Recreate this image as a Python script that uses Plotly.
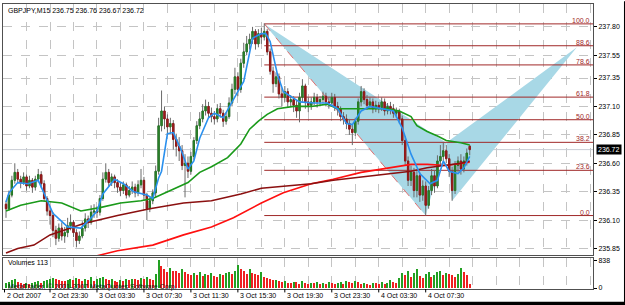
import plotly.graph_objects as go

# ---------------- data ----------------
bars = list(range(159))

opens = [
    236.24, 236.20, 236.32, 236.45, 236.52, 236.46, 236.43, 236.48, 236.40, 236.45,
    236.39, 236.46, 236.50, 236.42, 236.29, 236.18, 236.14, 236.01, 235.94, 236.03,
    235.96, 235.99, 236.05, 236.08, 235.99, 235.92, 235.96, 236.03, 236.11, 236.08,
    236.17, 236.18, 236.17, 236.29, 236.46, 236.52, 236.43, 236.48, 236.43, 236.39,
    236.36, 236.41, 236.32, 236.36, 236.39, 236.34, 236.41, 236.45, 236.32, 236.20,
    236.27, 236.34, 236.53, 236.93, 237.06, 236.99, 236.92, 236.95, 236.81, 236.75,
    236.71, 236.58, 236.60, 236.53, 236.66, 236.80, 236.93, 236.99, 237.06, 237.10,
    237.04, 237.01, 236.99, 237.08, 237.04, 236.97, 237.01, 237.13, 237.25, 237.36,
    237.25, 237.48, 237.58, 237.65, 237.69, 237.76, 237.65, 237.74, 237.71, 237.76,
    237.58, 237.41, 237.30, 237.36, 237.21, 237.18, 237.23, 237.14, 237.16, 237.11,
    237.06, 237.18, 237.28, 237.14, 237.11, 237.14, 237.18, 237.14, 237.16, 237.19,
    237.14, 237.13, 237.18, 237.10, 237.08, 237.01, 236.99, 236.95, 236.90, 236.87,
    236.97, 237.14, 237.23, 237.16, 237.11, 237.14, 237.08, 237.11, 237.09, 237.14,
    237.06, 237.10, 237.08, 237.04, 237.06, 236.99, 236.80, 236.62, 236.45, 236.52,
    236.36, 236.49, 236.32, 236.40, 236.23, 236.36, 236.49, 236.40, 236.62, 236.66,
    236.71, 236.64, 236.53, 236.36, 236.58, 236.62, 236.55, 236.62, 236.75,
]
highs = [
    236.27, 236.36, 236.49, 236.60, 236.55, 236.49, 236.52, 236.50, 236.49, 236.47,
    236.49, 236.55, 236.53, 236.45, 236.31, 236.22, 236.17, 236.05, 236.07, 236.08,
    236.04, 236.12, 236.15, 236.10, 236.02, 236.00, 236.09, 236.16, 236.14, 236.23,
    236.24, 236.22, 236.32, 236.52, 236.60, 236.55, 236.51, 236.50, 236.46, 236.43,
    236.44, 236.43, 236.40, 236.44, 236.42, 236.45, 236.55, 236.48, 236.34, 236.30,
    236.37, 236.58, 237.00, 237.24, 237.10, 237.03, 237.00, 236.98, 236.86, 236.83,
    236.76, 236.68, 236.66, 236.70, 236.83, 236.97, 237.05, 237.12, 237.16, 237.14,
    237.09, 237.06, 237.12, 237.13, 237.07, 237.05, 237.18, 237.30, 237.44, 237.40,
    237.52, 237.66, 237.72, 237.74, 237.80, 237.78, 237.78, 237.79, 237.83, 237.78,
    237.61, 237.45, 237.40, 237.39, 237.26, 237.28, 237.26, 237.20, 237.19, 237.15,
    237.22, 237.34, 237.30, 237.18, 237.18, 237.22, 237.21, 237.19, 237.23, 237.22,
    237.18, 237.22, 237.21, 237.14, 237.10, 237.05, 237.03, 236.99, 236.94, 237.00,
    237.17, 237.28, 237.26, 237.20, 237.18, 237.17, 237.15, 237.14, 237.18, 237.17,
    237.13, 237.14, 237.12, 237.09, 237.08, 237.02, 236.84, 236.66, 236.58, 236.56,
    236.53, 236.52, 236.45, 236.44, 236.40, 236.55, 236.54, 236.67, 236.76, 236.78,
    236.76, 236.68, 236.57, 236.62, 236.66, 236.68, 236.66, 236.73, 236.76,
]
lows = [
    236.12, 236.18, 236.30, 236.42, 236.43, 236.38, 236.41, 236.36, 236.38, 236.34,
    236.36, 236.43, 236.38, 236.26, 236.14, 236.06, 235.95, 235.88, 235.91, 235.92,
    235.90, 235.95, 236.01, 235.95, 235.86, 235.89, 235.94, 236.00, 236.03, 236.06,
    236.12, 236.12, 236.14, 236.27, 236.43, 236.40, 236.40, 236.38, 236.34, 236.31,
    236.33, 236.29, 236.30, 236.33, 236.30, 236.31, 236.38, 236.27, 236.10, 236.17,
    236.24, 236.30, 236.50, 236.88, 236.90, 236.85, 236.86, 236.72, 236.66, 236.62,
    236.54, 236.30, 236.47, 236.50, 236.63, 236.77, 236.90, 236.96, 237.02, 237.00,
    236.96, 236.94, 236.96, 237.00, 236.92, 236.94, 236.99, 237.10, 237.21, 237.19,
    237.22, 237.44, 237.55, 237.60, 237.65, 237.60, 237.62, 237.65, 237.68, 237.55,
    237.38, 237.22, 237.27, 237.17, 237.10, 237.14, 237.09, 237.10, 237.05, 237.00,
    236.96, 237.14, 237.08, 237.05, 237.07, 237.11, 237.09, 237.10, 237.13, 237.10,
    237.08, 237.10, 237.06, 237.02, 236.97, 236.94, 236.90, 236.85, 236.76, 236.84,
    236.94, 237.10, 237.12, 237.07, 237.08, 237.04, 237.05, 237.04, 237.06, 237.02,
    237.03, 237.03, 237.00, 237.00, 236.95, 236.76, 236.58, 236.40, 236.40, 236.30,
    236.30, 236.26, 236.27, 236.14, 236.20, 236.32, 236.34, 236.38, 236.58, 236.62,
    236.60, 236.48, 236.27, 236.33, 236.52, 236.50, 236.52, 236.58, 236.67,
]
closes = [
    236.20, 236.32, 236.45, 236.52, 236.46, 236.43, 236.48, 236.40, 236.45, 236.39,
    236.46, 236.50, 236.42, 236.29, 236.18, 236.14, 236.01, 235.94, 236.03, 235.96,
    235.99, 236.05, 236.08, 235.99, 235.92, 235.96, 236.03, 236.11, 236.08, 236.17,
    236.18, 236.17, 236.29, 236.46, 236.52, 236.43, 236.48, 236.43, 236.39, 236.36,
    236.41, 236.32, 236.36, 236.39, 236.34, 236.41, 236.45, 236.32, 236.20, 236.27,
    236.34, 236.53, 236.93, 237.06, 236.99, 236.92, 236.95, 236.81, 236.75, 236.71,
    236.58, 236.60, 236.53, 236.66, 236.80, 236.93, 236.99, 237.06, 237.10, 237.04,
    237.01, 236.99, 237.08, 237.04, 236.97, 237.01, 237.13, 237.25, 237.36, 237.25,
    237.48, 237.58, 237.65, 237.69, 237.76, 237.65, 237.74, 237.71, 237.76, 237.58,
    237.41, 237.30, 237.36, 237.21, 237.18, 237.23, 237.14, 237.16, 237.11, 237.06,
    237.18, 237.28, 237.14, 237.11, 237.14, 237.18, 237.14, 237.16, 237.19, 237.14,
    237.13, 237.18, 237.10, 237.08, 237.01, 236.99, 236.95, 236.90, 236.87, 236.97,
    237.14, 237.23, 237.16, 237.11, 237.14, 237.08, 237.11, 237.09, 237.14, 237.06,
    237.10, 237.08, 237.04, 237.06, 236.99, 236.80, 236.62, 236.45, 236.52, 236.36,
    236.49, 236.32, 236.40, 236.23, 236.36, 236.49, 236.40, 236.62, 236.66, 236.71,
    236.64, 236.53, 236.36, 236.58, 236.62, 236.55, 236.62, 236.69, 236.72,
]
volumes = [
    130, 160, 220, 250, 180, 140, 120, 150, 110, 130, 170, 190, 150, 200, 230,
    260, 300, 280, 240, 210, 200, 230, 260, 220, 300, 250, 210, 280, 240, 330, 200, 250, 300,
    340, 280, 220, 260, 200, 180, 240, 210, 260, 230, 280, 250, 220, 300, 260, 320, 280, 240, 420,
    838,
    650, 560, 480, 600, 520, 500, 440, 560, 470, 420,
    380, 450, 400, 470, 360, 420, 380, 440, 360, 330, 410, 380, 460,
    480, 430, 520, 690, 560, 500, 420, 560, 460, 420, 380,
    480, 330, 300, 260, 220, 240, 190, 160, 200, 150, 130, 180, 160, 120, 190, 140, 110, 150,
    130, 160, 120, 140, 100, 170, 130, 110, 150, 180, 120, 200, 160, 130, 200, 180, 110, 150,
    120, 90, 140, 130, 100, 160, 120, 150, 220, 180, 130,
    300, 440, 380, 500, 330, 450, 580,
    360, 300, 420, 470, 330, 400, 480, 520, 380, 460, 420, 400, 340, 430, 600, 470, 380,
    113,
]

ma_fast_bars = [0, 1, 4, 7.5, 11, 13, 16, 21, 25.5, 29, 31, 33, 37, 40, 43.5, 48, 50, 52, 53,
                55, 57, 59.5, 62, 64, 66, 69, 71, 74, 76.5, 79, 81, 82.5, 84, 87, 88.5, 90,
                92.5, 94.5, 97, 100, 105, 109.5, 113, 116, 118, 121, 124, 128.5, 132, 135,
                138, 141, 144.5, 147, 149, 151, 154, 156, 158]
ma_fast_vals = [236.26, 236.34, 236.43, 236.42, 236.45, 236.34, 236.16, 236.04, 236.03, 236.12,
                236.18, 236.33, 236.46, 236.42, 236.35, 236.32, 236.29, 236.47, 236.53, 236.86,
                236.87, 236.73, 236.55, 236.62, 236.82, 237.00, 237.04, 237.00, 237.12, 237.23,
                237.32, 237.52, 237.70, 237.74, 237.74, 237.67, 237.38, 237.23, 237.19, 237.14,
                237.13, 237.13, 237.08, 236.95, 236.94, 237.06, 237.10, 237.08, 237.06, 236.91,
                236.68, 236.51, 236.42, 236.45, 236.62, 236.53, 236.51, 236.56, 236.66]
ma_mid_bars = [0, 5, 12, 19, 25.5, 32, 39, 46, 50, 56, 62, 66, 70, 75.5, 80, 83, 86, 89, 92.5,
               98, 104, 109.5, 113, 117, 123, 130, 134, 138, 140, 143.5, 147, 150, 155, 158]
ma_mid_vals = [236.18, 236.23, 236.27, 236.25, 236.18, 236.21, 236.25, 236.27, 236.29, 236.36,
               236.43, 236.52, 236.57, 236.65, 236.77, 236.90, 236.97, 237.03, 237.08, 237.10,
               237.10, 237.12, 237.08, 237.08, 237.08, 237.08, 237.06, 237.01, 236.93, 236.88,
               236.84, 236.80, 236.78, 236.76]
ma_slow_bars = [0, 4, 9.5, 15, 26.5, 38, 49, 60.5, 70, 80, 87, 94.5, 104, 111.5, 121, 130, 138,
                143.5, 149, 155, 158]
ma_slow_vals = [235.81, 235.85, 235.88, 235.97, 236.07, 236.14, 236.20, 236.25, 236.27, 236.33,
                236.38, 236.40, 236.42, 236.45, 236.48, 236.51, 236.53, 236.56, 236.58, 236.60,
                236.62]
ma_long_bars = [30, 38, 50, 60.5, 70, 77.5, 87, 94.5, 104, 111.5, 121, 130, 138, 143.5, 150, 158]
ma_long_vals = [235.78, 235.83, 235.88, 235.97, 236.04, 236.12, 236.25, 236.34, 236.42, 236.46,
                236.52, 236.56, 236.59, 236.59, 236.58, 236.61]

# harmonic pattern points X, A, B, C, D
pattern_bars = [88, 143, 150, 152, 194.5]
pattern_prices = [237.826, 236.14, 236.78, 236.27, 237.62]

fib_ratios = [0.0, 23.6, 38.2, 50.0, 61.8, 78.6, 88.6, 100.0]
fib_low = 236.14
fib_high = 237.826
fib_start_bar = 88

last_price = 236.72
price_ticks = [237.80, 237.55, 237.35, 237.10, 236.85, 236.60, 236.35, 236.10, 235.85]
grid_bars = list(range(7, 200, 8))
time_tick_bars = [-0.5, 15, 31, 47, 63, 79, 95, 111, 127, 143]
time_tick_labels = ["2 Oct 2007", "2 Oct 23:30", "3 Oct 03:30", "3 Oct 07:30", "3 Oct 11:30",
                    "3 Oct 15:30", "3 Oct 19:30", "3 Oct 23:30", "4 Oct 03:30", "4 Oct 07:30"]
vol_ticks = [0, 838]
title_text = "GBPJPY,M15 236.75 236.76 236.67 236.72"

assert len(opens) == len(highs) == len(lows) == len(closes) == len(volumes) == len(bars)

# ---------------- figure ----------------
X_MIN, X_MAX = -1.02, 200.0
FONT = "Liberation Sans"
FS = 7
FIBC = "#a02828"
FILL = "rgb(168,216,230)"

fig = go.Figure()

# candles: gray wicks first, then coloured bodies on top
fig.add_trace(go.Candlestick(
    x=bars, open=opens, high=highs, low=lows, close=closes,
    increasing=dict(line=dict(color="#6a6a6a", width=1), fillcolor="#6a6a6a"),
    decreasing=dict(line=dict(color="#6a6a6a", width=1), fillcolor="#6a6a6a"),
    whiskerwidth=0, hoverinfo="skip"))
body_top = [max(o, c) for o, c in zip(opens, closes)]
body_bot = [min(o, c) for o, c in zip(opens, closes)]
fig.add_trace(go.Candlestick(
    x=bars, open=opens, high=body_top, low=body_bot, close=closes,
    increasing=dict(line=dict(color="#267a26", width=1), fillcolor="#2f8a2f"),
    decreasing=dict(line=dict(color="#901818", width=1), fillcolor="#a81c1c"),
    whiskerwidth=0, hoverinfo="skip"))

# moving averages
for bx, vals, col in [(ma_long_bars, ma_long_vals, "#ff1010"),
                      (ma_slow_bars, ma_slow_vals, "#8b1010"),
                      (ma_mid_bars, ma_mid_vals, "#1a9a1a"),
                      (ma_fast_bars, ma_fast_vals, "#2a90ee")]:
    fig.add_trace(go.Scatter(x=bx, y=vals, mode="lines", line=dict(color=col, width=1.6),
                             hoverinfo="skip"))

# volumes
vcolors = []
for i, v in enumerate(volumes):
    if i == 0 or v >= volumes[i - 1]:
        vcolors.append("#22a022")
    else:
        vcolors.append("#ee2020")
fig.add_trace(go.Bar(x=bars, y=volumes, marker=dict(color=vcolors, line=dict(width=0)),
                     width=0.4, xaxis="x2", yaxis="y2", hoverinfo="skip"))

# ---- objects between grid and traces ----
fig.add_shape(type="line", xref="x", yref="y", x0=X_MIN, x1=X_MAX, y0=last_price, y1=last_price,
              line=dict(color="#c8ccd4", width=1), layer="between")
for idx in [(0, 1, 2), (2, 3, 4)]:
    path = "M {} {} L {} {} L {} {} Z".format(
        pattern_bars[idx[0]], pattern_prices[idx[0]],
        pattern_bars[idx[1]], pattern_prices[idx[1]],
        pattern_bars[idx[2]], pattern_prices[idx[2]])
    fig.add_shape(type="path", path=path, xref="x", yref="y", fillcolor=FILL,
                  line=dict(width=0), layer="between")
fig.add_shape(type="line", xref="x", yref="y", x0=pattern_bars[0], y0=pattern_prices[0],
              x1=pattern_bars[1], y1=pattern_prices[1],
              line=dict(color="#e07070", width=1, dash="dash"), layer="between")
for r in fib_ratios:
    lvl = fib_low + r / 100.0 * (fib_high - fib_low)
    fig.add_shape(type="line", xref="x", yref="y", x0=fib_start_bar, x1=X_MAX, y0=lvl, y1=lvl,
                  line=dict(color=FIBC, width=1), layer="between")
    fig.add_annotation(x=X_MAX, y=lvl, xref="x", yref="y", text=f"{r:.1f}",
                       showarrow=False, xanchor="right", yanchor="bottom", xshift=-1, yshift=-2,
                       font=dict(family=FONT, size=FS, color=FIBC))

axis_common = dict(showline=True, mirror=True, linecolor="#505050", linewidth=1, zeroline=False)
grid_style = dict(showgrid=True, gridcolor="#c4c4c4", griddash="dash", gridwidth=1)

fig.update_layout(
    width=625, height=305, margin=dict(l=2, r=32, t=2, b=16),
    paper_bgcolor="white", plot_bgcolor="white", showlegend=False, bargap=0, boxgap=0.35,
    xaxis=dict(domain=[0, 1], range=[X_MIN, X_MAX], anchor="y", tickmode="array",
               tickvals=grid_bars, showticklabels=False, ticks="",
               rangeslider=dict(visible=False), **grid_style, **axis_common),
    yaxis=dict(domain=[0.1185, 1], range=[235.791, 238.001], side="right", anchor="x",
               tickmode="array", tickvals=price_ticks,
               ticktext=[f"{v:.2f}" for v in price_ticks], ticks="outside", ticklen=3,
               tickcolor="black", tickfont=dict(family=FONT, size=FS, color="black"),
               **grid_style, **axis_common),
    xaxis2=dict(domain=[0, 1], range=[X_MIN, X_MAX], anchor="y2", matches="x",
                tickmode="array", tickvals=grid_bars, showticklabels=False, ticks="",
                **grid_style, **axis_common),
    yaxis2=dict(domain=[0, 0.108], range=[-29.9, 897.9], side="right", anchor="x2",
                tickmode="array", tickvals=vol_ticks, ticktext=[str(v) for v in vol_ticks],
                ticks="outside", ticklen=3, tickcolor="black", showgrid=False,
                tickfont=dict(family=FONT, size=FS, color="black"), **axis_common),
)

for b, lab in zip(time_tick_bars, time_tick_labels):
    fig.add_annotation(x=b, y=-0.004, xref="x2", yref="paper", text=lab, showarrow=False,
                       xanchor="left", yanchor="top", xshift=0,
                       font=dict(family=FONT, size=FS, color="black"))
    fig.add_shape(type="line", xref="x2", yref="paper", x0=b, x1=b, y0=0, y1=-0.012,
                  line=dict(color="black", width=1))

fig.add_annotation(x=1.0, y=last_price, xref="paper", yref="y", text=f"{last_price:.2f}",
                   showarrow=False, xanchor="left", yanchor="middle", xshift=3,
                   bgcolor="black", borderpad=1,
                   font=dict(family=FONT, size=FS, color="white"))

fig.add_annotation(x=0.005, y=0.998, xref="paper", yref="paper", text=title_text,
                   showarrow=False, xanchor="left", yanchor="top",
                   font=dict(family=FONT, size=FS, color="black"))
fig.add_annotation(x=0.005, y=0.092, xref="paper", yref="paper", text="Volumes 113",
                   showarrow=False, xanchor="left", yanchor="middle",
                   font=dict(family=FONT, size=FS, color="black"))
fig.add_annotation(x=0.005, y=0.008, xref="paper", yref="paper",
                   text="MetaTrader, © 2001-2007 MetaQuotes Software Corp.",
                   showarrow=False, xanchor="left", yanchor="middle",
                   font=dict(family=FONT, size=FS, color="#202020"))

fig.add_shape(type="rect", xref="paper", yref="paper", x0=-0.01, x1=1.06, y0=-0.045, y1=-0.06,
              fillcolor="black", line=dict(width=0))
fig.add_shape(type="rect", xref="paper", yref="paper", x0=1.0525, x1=1.06, y0=-0.06, y1=1.01,
              fillcolor="black", line=dict(width=0))

fig.write_html("out.html")
